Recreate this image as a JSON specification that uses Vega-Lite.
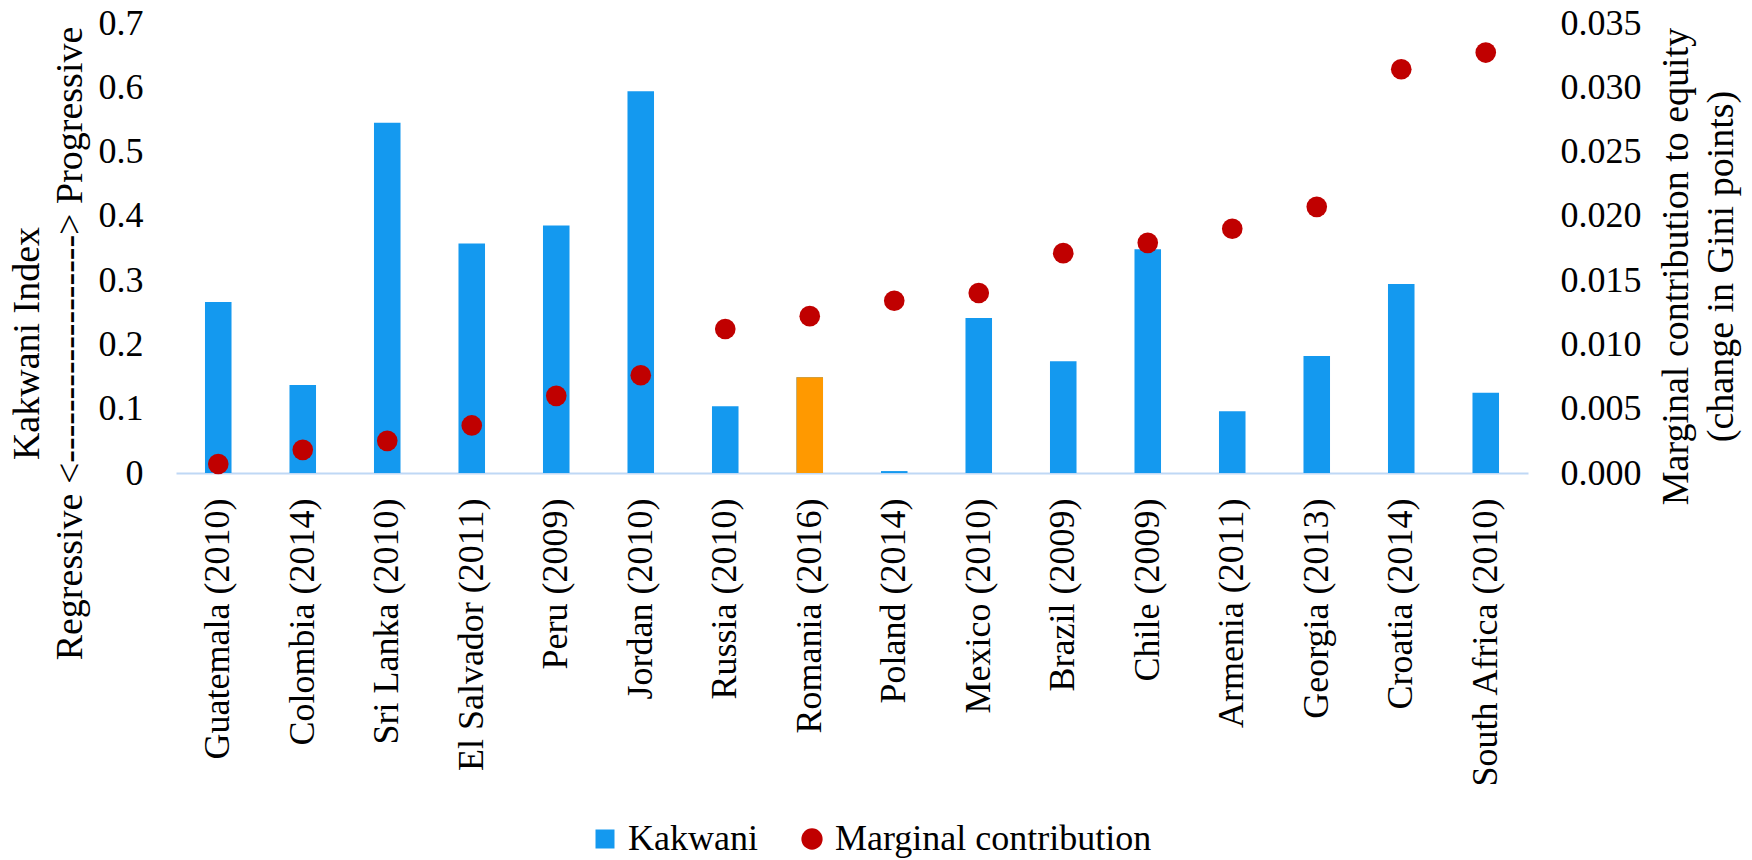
{
  "$schema": "https://vega.github.io/schema/vega-lite/v6.json",
  "width": 1352,
  "height": 450,
  "autosize": "none",
  "padding": {"left": 176, "top": 23, "right": 224, "bottom": 387},
  "background": "white",
  "config": {
    "view": {"stroke": null},
    "font": "Liberation Serif",
    "axis": {"labelFont": "Liberation Serif", "titleFont": "Liberation Serif", "labelColor": "#000000", "titleColor": "#000000", "grid": false, "ticks": false, "titleFontWeight": "normal", "labelLimit": 0, "titleLimit": 0},
    "legend": {"labelFont": "Liberation Serif", "labelColor": "#000000", "labelLimit": 0}
  },
  "data": {
    "values": [
      {"country": "Guatemala (2010)", "kakwani": 0.266, "marginal": 0.0007},
      {"country": "Colombia (2014)", "kakwani": 0.137, "marginal": 0.0018},
      {"country": "Sri Lanka (2010)", "kakwani": 0.545, "marginal": 0.0025},
      {"country": "El Salvador (2011)", "kakwani": 0.357, "marginal": 0.0037},
      {"country": "Peru (2009)", "kakwani": 0.385, "marginal": 0.0060},
      {"country": "Jordan (2010)", "kakwani": 0.594, "marginal": 0.0076},
      {"country": "Russia (2010)", "kakwani": 0.104, "marginal": 0.0112},
      {"country": "Romania (2016)", "kakwani": 0.149, "marginal": 0.0122},
      {"country": "Poland (2014)", "kakwani": 0.003, "marginal": 0.0134},
      {"country": "Mexico (2010)", "kakwani": 0.241, "marginal": 0.0140},
      {"country": "Brazil (2009)", "kakwani": 0.174, "marginal": 0.0171},
      {"country": "Chile (2009)", "kakwani": 0.348, "marginal": 0.0179},
      {"country": "Armenia (2011)", "kakwani": 0.096, "marginal": 0.0190},
      {"country": "Georgia (2013)", "kakwani": 0.182, "marginal": 0.0207},
      {"country": "Croatia (2014)", "kakwani": 0.294, "marginal": 0.0314},
      {"country": "South Africa (2010)", "kakwani": 0.125, "marginal": 0.0327}
    ]
  },
  "encoding": {
    "x": {
      "field": "country",
      "type": "nominal",
      "sort": null,
      "scale": {"paddingInner": 0.686, "paddingOuter": 0.343},
      "axis": {
        "title": null,
        "labelAngle": -90,
        "labelPadding": 25,
        "labelFontSize": 36,
        "labelLimit": 0,
        "domainColor": "#BFD8F5",
        "domainWidth": 2,
        "ticks": false
      }
    }
  },
  "layer": [
    {
      "layer": [
        {
          "mark": {"type": "bar"},
          "encoding": {
            "y": {
              "field": "kakwani",
              "type": "quantitative",
              "scale": {"domain": [0, 0.7], "nice": false, "zero": true},
              "axis": {
                "orient": "left",
                "values": [0, 0.1, 0.2, 0.3, 0.4, 0.5, 0.6, 0.7],
                "labelExpr": "datum.value === 0 ? '0' : format(datum.value, '.1f')",
                "labelFontSize": 36,
                "labelPadding": 33,
                "domain": false,
                "title": ["Kakwani Index", "Regressive <------------------> Progressive"],
                "titleFontSize": 38,
                "titleLineHeight": 43,
                "titleAngle": 270,
                "titleAlign": "center",
                "titleBaseline": "middle",
                "titleX": -149,
                "titleY": 320
              }
            },
            "color": {
              "datum": "Kakwani",
              "scale": {"domain": ["Kakwani", "Marginal contribution"], "range": ["#1499EF", "#C00000"]},
              "legend": {
                "title": null,
                "orient": "none",
                "direction": "horizontal",
                "legendX": 411,
                "legendY": 798,
                "padding": 0,
                "labelFontSize": 36,
                "labelOffset": 5,
                "labelLimit": 0,
                "columnPadding": 36,
                "symbolSize": 452,
                "symbolOpacity": 1,
                "symbolStrokeWidth": 0,
                "encode": {
                  "symbols": {
                    "update": {
                      "shape": {"signal": "datum.value === 'Kakwani' ? 'square' : 'circle'"},
                      "size": {"signal": "datum.value === 'Kakwani' ? 361 : 452"}
                    }
                  }
                }
              }
            }
          }
        },
        {
          "transform": [{"filter": "datum.country === 'Romania (2016)'"}],
          "mark": {"type": "bar", "color": "#FF9900"},
          "encoding": {
            "y": {"field": "kakwani", "type": "quantitative"}
          }
        }
      ]
    },
    {
      "mark": {"type": "circle", "size": 426, "opacity": 1},
      "encoding": {
        "y": {
          "field": "marginal",
          "type": "quantitative",
          "scale": {"domain": [0, 0.035], "nice": false, "zero": true},
          "axis": {
            "orient": "right",
            "values": [0, 0.005, 0.01, 0.015, 0.02, 0.025, 0.03, 0.035],
            "format": ".3f",
            "labelFontSize": 36,
            "labelPadding": 32,
            "domain": false,
            "title": ["Marginal contribution to equity", "(change in Gini points)"],
            "titleFontSize": 38,
            "titleLineHeight": 45,
            "titleAngle": 270,
            "titleAlign": "center",
            "titleBaseline": "middle",
            "titleX": 148,
            "titleY": 243
          }
        },
        "color": {"datum": "Marginal contribution"}
      }
    }
  ],
  "resolve": {"scale": {"y": "independent"}}
}
